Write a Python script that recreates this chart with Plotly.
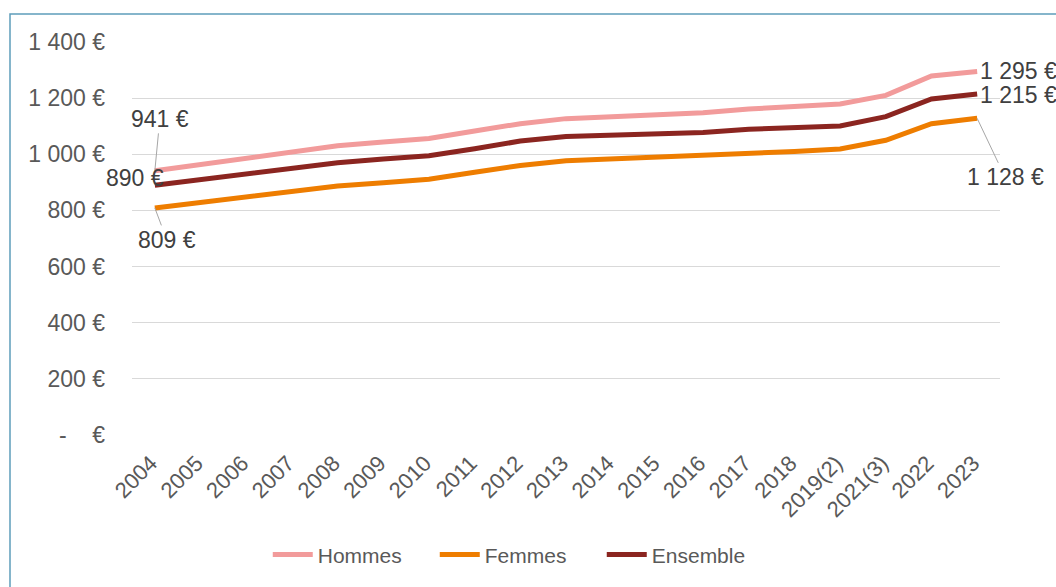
import plotly.graph_objects as go

categories = ["2004", "2005", "2006", "2007", "2008", "2009", "2010", "2011", "2012",
              "2013", "2014", "2015", "2016", "2017", "2018", "2019(2)", "2021(3)", "2022", "2023"]
hommes = [941, 963, 986, 1008, 1030, 1044, 1056, 1083, 1109, 1127, 1134, 1141, 1148, 1161, 1169, 1179, 1210, 1279, 1295]
femmes = [809, 828, 847, 867, 887, 899, 911, 936, 960, 977, 983, 989, 994, 1004, 1010, 1019, 1050, 1109, 1128]
ensemble = [890, 910, 930, 950, 970, 983, 995, 1020, 1047, 1063, 1068, 1074, 1078, 1089, 1095, 1101, 1134, 1197, 1215]
y_tickvals = [0, 200, 400, 600, 800, 1000, 1200, 1400]
y_ticktext = ["-    €", "200 €", "400 €", "600 €", "800 €", "1 000 €", "1 200 €", "1 400 €"]

FONT = "Liberation Sans, Arial, sans-serif"
TXT = "#595959"
colors = {"Hommes": "#F29B9B", "Femmes": "#EE7D00", "Ensemble": "#8B2520"}


def fmt(v):
    return f"{v:,}".replace(",", " ") + " €"


fig = go.Figure()
for name, vals in [("Hommes", hommes), ("Femmes", femmes), ("Ensemble", ensemble)]:
    fig.add_trace(go.Scatter(x=categories, y=vals, mode="lines", name=name,
                             line=dict(color=colors[name], width=5)))

first = 0
last = len(categories) - 1
ann_font = dict(family=FONT, size=23, color="#404040")
annotations = [
    dict(x=first, y=hommes[0], text=fmt(hommes[0]), showarrow=True, ax=5, ay=-52,
         arrowhead=0, arrowcolor="#A6A6A6", arrowwidth=1, font=ann_font),
    dict(x=first, y=ensemble[0], text=fmt(ensemble[0]), showarrow=False,
         xshift=-20, yshift=7, font=ann_font),
    dict(x=first, y=femmes[0], text=fmt(femmes[0]), showarrow=True, ax=12, ay=32,
         arrowhead=0, arrowcolor="#A6A6A6", arrowwidth=1, font=ann_font),
    dict(x=last, y=hommes[-1], text=fmt(hommes[-1]), showarrow=False,
         xanchor="left", xshift=1, yshift=0, font=ann_font),
    dict(x=last, y=ensemble[-1], text=fmt(ensemble[-1]), showarrow=False,
         xanchor="left", xshift=1, yshift=-1, font=ann_font),
    dict(x=last, y=femmes[-1], text=fmt(femmes[-1]), showarrow=True, ax=28, ay=59,
         arrowhead=0, arrowcolor="#A6A6A6", arrowwidth=1, font=ann_font),
]

fig.update_layout(
    width=1056, height=587,
    margin=dict(l=132, r=56, t=42, b=152),
    paper_bgcolor="white", plot_bgcolor="white",
    font=dict(family=FONT, size=22, color=TXT),
    showlegend=True,
    legend=dict(orientation="h", x=0.445, xanchor="center", y=-0.305, yanchor="middle",
                font=dict(family=FONT, size=21, color=TXT), itemwidth=40,
                entrywidth=112, entrywidthmode="pixels", tracegroupgap=0),
    annotations=annotations,
    shapes=[dict(type="rect", xref="paper", yref="paper",
                 x0=(10 - 132) / 868, x1=1.3, y0=-0.6, y1=(435 - 14) / 393,
                 line=dict(color="#5E9DBA", width=1.5), fillcolor="rgba(0,0,0,0)", layer="below")],
)
fig.update_xaxes(type="category", range=[-0.5, 18.5], showgrid=False, showline=False,
                 tickangle=-45, tickfont=dict(family=FONT, size=22, color=TXT), ticks="",
                 ticklabelstandoff=10, ticklabelshift=-4)
fig.update_yaxes(range=[0, 1400], tickvals=y_tickvals, ticktext=y_ticktext,
                 showgrid=True, gridcolor="#D9D9D9", gridwidth=1, zeroline=False,
                 showline=False, ticks="", ticklabelstandoff=26,
                 tickfont=dict(family=FONT, size=23, color=TXT))

fig.write_html("out.html")
